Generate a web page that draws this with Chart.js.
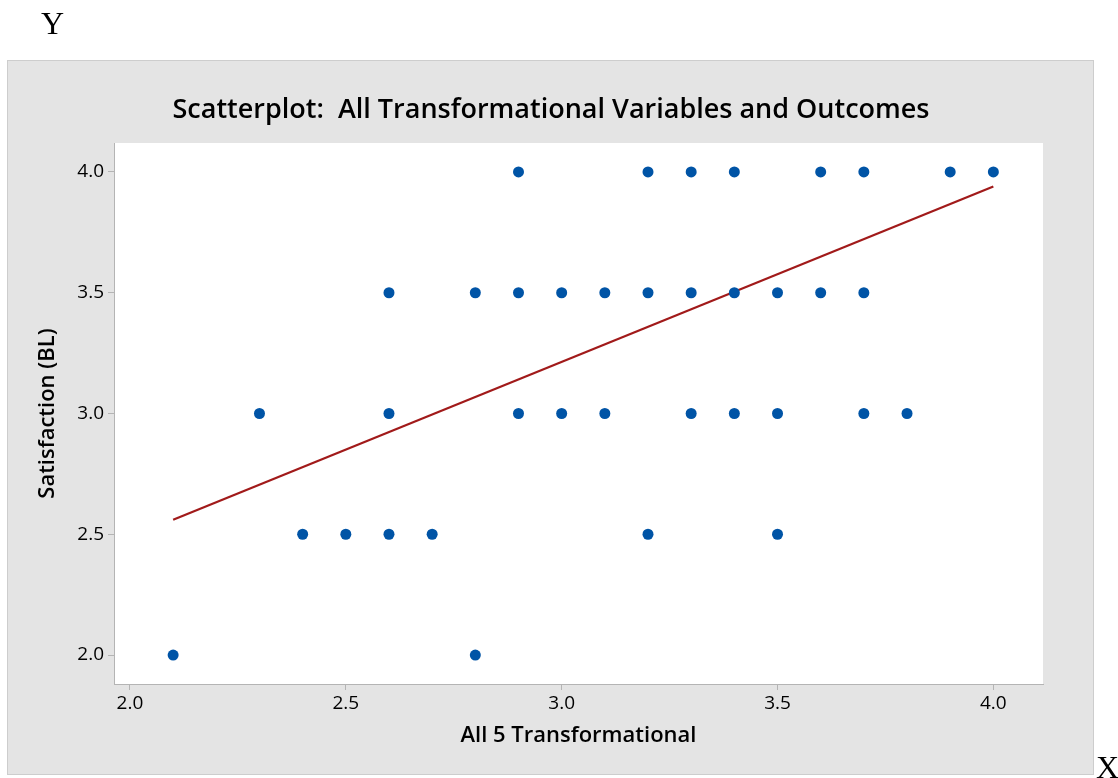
<!DOCTYPE html>
<html><head><meta charset="utf-8">
<script src="https://cdn.jsdelivr.net/npm/chart.js@4/dist/chart.umd.min.js"></script>
<style>html,body{margin:0;padding:0;background:#fff;}canvas{display:block;}</style>
</head><body><canvas id="c" width="1118" height="778"></canvas>
<script>
// Data
const xValues = [2.9,3.2,3.3,3.4,3.6,3.7,3.9,4.0,
                 2.6,2.8,2.9,3.0,3.1,3.2,3.3,3.4,3.5,3.6,3.7,
                 2.3,2.6,2.9,3.0,3.1,3.3,3.4,3.5,3.7,3.8,
                 2.4,2.5,2.6,2.7,3.2,3.5,
                 2.1,2.8];
const yValues = [4.0,4.0,4.0,4.0,4.0,4.0,4.0,4.0,
                 3.5,3.5,3.5,3.5,3.5,3.5,3.5,3.5,3.5,3.5,3.5,
                 3.0,3.0,3.0,3.0,3.0,3.0,3.0,3.0,3.0,3.0,
                 2.5,2.5,2.5,2.5,2.5,2.5,
                 2.0,2.0];
const fitX = [2.1, 4.0];
const fitY = [2.56, 3.94];
const xTicks = [2.0, 2.5, 3.0, 3.5, 4.0];
const yTicks = [2.0, 2.5, 3.0, 3.5, 4.0];
const chartTitle = 'Scatterplot:  All Transformational Variables and Outcomes';
const xTitle = 'All 5 Transformational';
const yTitle = 'Satisfaction (BL)';

const FONT = '"Open Sans", "Noto Sans", sans-serif';
const points = xValues.map((x, i) => ({x: x, y: yValues[i]}));
const fitPoints = fitX.map((x, i) => ({x: x, y: fitY[i]}));

const decor = {
  id: 'decor',
  beforeDraw(chart) {
    const ctx = chart.ctx, a = chart.chartArea;
    ctx.save();
    ctx.fillStyle = '#e4e4e4';
    ctx.fillRect(7, 60, 1087, 715);
    ctx.strokeStyle = '#cdcdcd';
    ctx.lineWidth = 1;
    ctx.strokeRect(7.5, 60.5, 1086, 714);
    ctx.fillStyle = '#ffffff';
    ctx.fillRect(a.left, a.top, a.right - a.left, a.bottom - a.top);
    ctx.fillStyle = '#000';
    ctx.font = '600 27px ' + FONT;
    ctx.textAlign = 'center';
    ctx.textBaseline = 'alphabetic';
    ctx.fillText(chartTitle, 551, 118);
    ctx.font = '32px "Liberation Serif", serif';
    ctx.textAlign = 'left';
    ctx.fillText('Y', 41, 34);
    ctx.fillText('X', 1096, 778);
    ctx.restore();
  }
};

new Chart(document.getElementById('c'), {
  data: {
    datasets: [
      {type: 'scatter', data: points, backgroundColor: '#0054a6', borderColor: '#0054a6',
       pointRadius: 5.5, pointHoverRadius: 5.5, borderWidth: 0, order: 0},
      {type: 'line', data: fitPoints, borderColor: '#a11a1a', borderWidth: 2.2,
       pointRadius: 0, fill: false, order: 1}
    ]
  },
  options: {
    responsive: false,
    animation: false,
    events: [],
    layout: {padding: {top: 143, left: 0, right: 75, bottom: 0}},
    plugins: {legend: {display: false}, title: {display: false}, tooltip: {enabled: false}},
    scales: {
      x: {
        type: 'linear', position: 'bottom', min: 1.963, max: 4.115,
        afterFit(s) { s.height = 94; },
        afterBuildTicks(s) { s.ticks = xTicks.map(v => ({value: v})); },
        ticks: {callback: v => v.toFixed(1), color: '#000', font: {family: FONT, size: 19, weight: '500'}, padding: 2},
        grid: {drawOnChartArea: false, drawTicks: true, tickLength: 6, color: '#b4b4b4'},
        border: {display: true, color: '#b4b4b4'},
        title: {display: true, text: xTitle, color: '#000', font: {family: FONT, size: 22, weight: '600'},
                padding: {top: 0, bottom: 29}}
      },
      y: {
        type: 'linear', position: 'left', min: 1.88, max: 4.12,
        afterFit(s) { s.width = 114; },
        afterBuildTicks(s) { s.ticks = yTicks.map(v => ({value: v})); },
        ticks: {callback: v => v.toFixed(1), color: '#000', font: {family: FONT, size: 19, weight: '500'}, padding: 4},
        grid: {drawOnChartArea: false, drawTicks: true, tickLength: 6, color: '#b4b4b4'},
        border: {display: true, color: '#b4b4b4'},
        title: {display: true, text: yTitle, color: '#000', font: {family: FONT, size: 22, weight: '600'},
                padding: {top: 35, bottom: 0}}
      }
    }
  },
  plugins: [decor]
});
</script>
</body></html>
